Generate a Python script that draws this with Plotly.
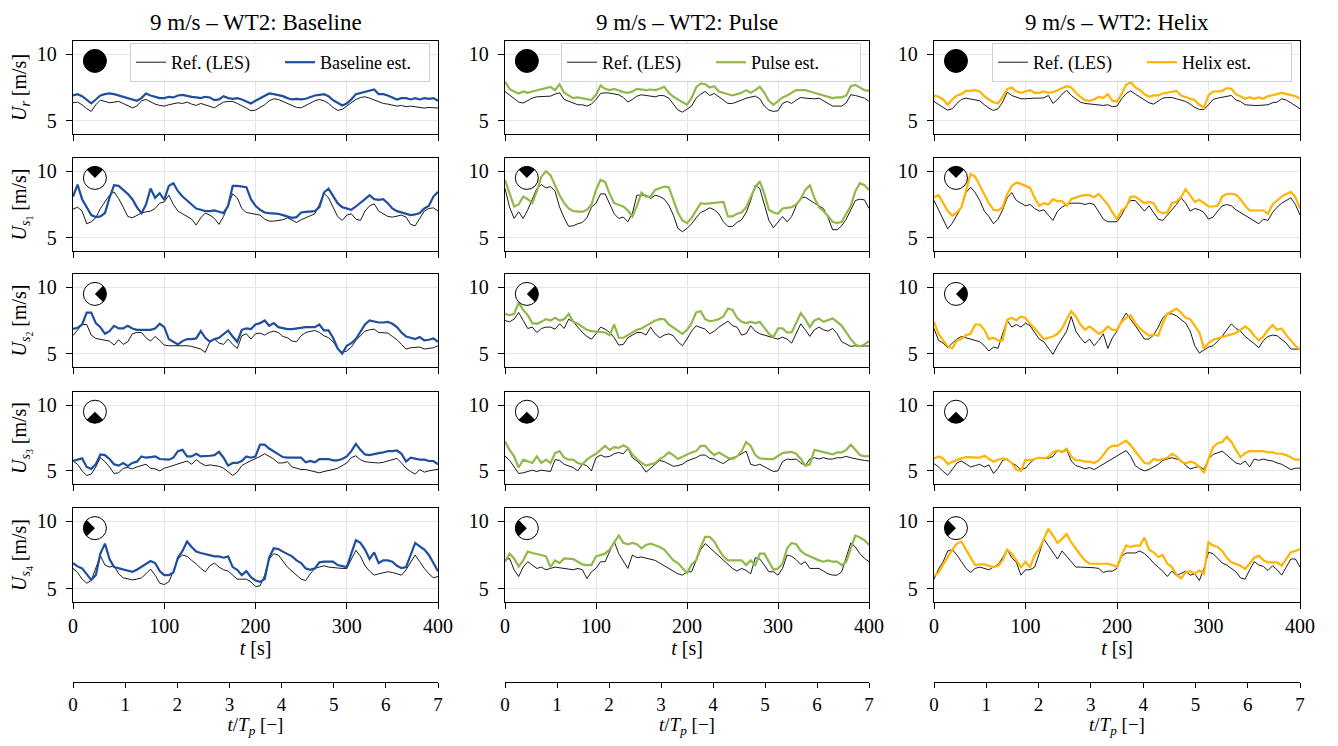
import numpy as np
import plotly.graph_objects as go

# time grid of the read-off samples [s]
T = list(range(0, 401, 5))
TP_TICKS = [0, 1, 2, 3, 4, 5, 6, 7]
T_TICKS = [0, 100, 200, 300, 400]
U_TICKS = [5, 10]

CASES = ["Baseline", "Pulse", "Helix"]
CASE_COLORS = ["#1f4e9e", "#92b84a", "#ffb400"]
ROW_LABELS = [
    "<i>U<sub>r</sub></i> [m/s]",
    "<i>U</i><sub><i>s</i><sub>1</sub></sub> [m/s]",
    "<i>U</i><sub><i>s</i><sub>2</sub></sub> [m/s]",
    "<i>U</i><sub><i>s</i><sub>3</sub></sub> [m/s]",
    "<i>U</i><sub><i>s</i><sub>4</sub></sub> [m/s]",
]
# direction of the black sector in the rotor icon (None = full disc)
ICON_DIR = [None, 90, 0, 270, 180]

# ---------------- Baseline ----------------
BASE_UR_REF = [
    6.35, 6.4, 6.2, 5.9, 5.7, 6.2, 6.55, 6.45, 6.35, 6.4,
    6.45, 6.3, 6.15, 5.97, 6.1, 6.5, 6.6, 6.4, 6.25, 6.15,
    6.1, 6.2, 6.3, 6.35, 6.3, 6.4, 6.25, 6.15, 6.3, 6.2,
    6.1, 5.97, 6.2, 6.4, 6.45, 6.45, 6.3, 6.15, 5.95, 5.75,
    5.8, 6.0, 6.2, 6.5, 6.65, 6.6, 6.45, 6.3, 6.15, 6.0,
    5.97, 6.15, 6.35, 6.5, 6.6, 6.5, 6.3, 6.0, 5.78, 5.85,
    6.1, 6.35, 6.6, 6.75, 6.8, 6.7, 6.55, 6.45, 6.3, 6.25,
    6.15, 6.1, 6.15, 6.05, 6.1, 6.05, 6.0, 5.95, 6.0, 5.95,
    5.95]
BASE_UR_EST = [
    6.9, 7.0, 6.85, 6.6, 6.3, 6.6, 6.9, 7.0, 7.05, 7.0,
    6.9, 6.85, 6.7, 6.6, 6.5, 6.7, 7.05, 6.9, 6.8, 6.7,
    6.7, 6.8, 6.75, 6.9, 6.95, 6.85, 6.8, 6.75, 6.7, 6.8,
    6.75, 6.55, 6.6, 6.85, 6.7, 6.65, 6.7, 6.6, 6.45, 6.3,
    6.5, 6.7, 6.9, 7.05, 7.0, 6.95, 6.85, 6.7, 6.6, 6.65,
    6.6, 6.65, 6.8, 6.9, 6.95, 7.0, 6.85, 6.55, 6.35, 6.15,
    6.3, 6.6, 7.0, 7.1, 7.2, 7.3, 7.35, 7.0, 7.0, 6.9,
    6.75, 6.6, 6.7, 6.7, 6.6, 6.7, 6.6, 6.7, 6.65, 6.7,
    6.5]
BASE_S1_REF = [
    7.15, 7.3, 7.0, 6.05, 6.2, 6.5, 7.2, 7.7, 8.2, 8.45,
    7.95, 7.3, 6.6, 6.5, 6.7, 6.85, 6.95, 7.0, 7.2, 7.6,
    7.7, 8.2, 7.5, 7.0, 6.8, 6.6, 6.4, 5.95, 6.5, 6.85,
    6.7, 6.45, 6.0, 6.6, 7.5, 8.3, 8.0, 7.2, 6.9, 6.85,
    6.75, 6.7, 6.4, 6.25, 6.25, 6.3, 6.35, 6.5, 6.3, 6.15,
    6.35, 6.5, 6.7, 6.8, 7.5, 8.35, 8.0, 7.3, 6.6, 6.3,
    6.7, 6.8, 6.4, 6.3, 7.0, 7.4, 7.55, 7.0, 6.8, 6.6,
    6.55, 6.6, 6.7, 6.55, 6.0, 5.9, 6.4, 7.0, 7.2, 7.25,
    7.0]
BASE_S1_EST = [
    8.1, 9.0, 7.9, 7.35, 6.7, 6.55, 6.6, 6.85, 8.0, 8.95,
    8.9, 8.6, 8.3, 7.9, 7.3, 6.85, 7.5, 8.7, 8.0, 8.35,
    7.85, 8.9, 9.1, 8.5, 8.1, 7.8, 7.5, 7.2, 7.1, 7.0,
    7.0, 7.05, 6.95, 6.85, 7.4, 8.9, 8.9, 8.85, 8.8, 7.9,
    7.4, 7.1, 6.9, 6.85, 6.85, 6.8, 6.7, 6.6, 6.5, 6.55,
    6.9, 6.95, 6.95, 7.0, 7.3, 8.4, 8.7, 8.1, 7.6, 7.3,
    7.2, 7.1, 7.35, 7.6, 7.9, 8.2, 7.9, 7.85, 7.9, 7.6,
    7.2, 7.0, 6.9, 6.75, 6.7, 6.75, 6.85, 7.2, 7.4, 8.1,
    8.45]
BASE_S2_REF = [
    6.37, 6.8, 7.2, 7.2, 6.4, 6.15, 6.1, 6.0, 5.95, 5.65,
    6.05, 5.7, 5.9, 6.5, 6.6, 6.6, 6.2, 5.95, 6.3, 6.0,
    5.65, 5.6, 5.6, 5.65, 5.65, 5.6, 5.55, 5.45, 5.35, 5.1,
    5.9, 6.1, 5.8, 5.7, 6.1, 5.7, 5.4, 6.35, 6.5, 6.1,
    6.5, 6.55, 6.4, 6.6, 6.7, 6.6, 6.3, 6.2, 5.95, 5.9,
    6.35, 6.6, 6.7, 6.75, 6.6, 6.35, 6.2, 5.9, 5.4, 5.1,
    5.2, 5.5, 6.0, 6.35, 6.7, 6.8, 6.85, 6.6, 6.6, 6.55,
    6.3, 6.05, 5.7, 5.35, 5.45, 5.5, 5.5, 5.35, 5.4, 5.45,
    5.6]
BASE_S2_EST = [
    6.87, 6.95, 7.2, 8.1, 8.1, 7.3, 7.0, 6.5, 6.7, 7.1,
    6.9, 6.9, 7.1, 6.9, 6.8, 6.8, 6.75, 6.8, 6.9, 7.25,
    7.0, 6.1, 5.9, 5.7, 5.95, 6.1, 6.1, 6.15, 6.7, 6.2,
    5.9, 6.1, 6.2, 6.5, 6.75, 6.3, 5.9, 6.8, 6.9, 6.85,
    7.2, 7.3, 7.5, 7.1, 7.3, 7.0, 6.9, 6.85, 6.85, 6.9,
    7.0, 7.0, 7.0, 7.0, 7.2, 6.75, 6.75, 6.2, 5.4, 5.0,
    5.6, 5.8, 6.1, 6.7, 7.2, 7.5, 7.4, 7.35, 7.35, 7.4,
    7.25, 7.0, 6.6, 6.3, 6.2, 6.1, 6.25, 6.0, 6.05, 6.15,
    5.9]
BASE_S3_REF = [
    5.75, 5.5, 5.0, 4.65, 4.75, 5.3, 6.0, 5.7, 5.3, 4.8,
    4.85, 5.2, 5.25, 5.15, 5.3, 5.4, 5.5, 5.2, 5.15, 5.0,
    5.2, 5.3, 5.4, 5.5, 5.6, 5.75, 5.5, 5.85, 5.6, 5.4,
    5.45, 5.4, 5.35, 5.2, 4.9, 4.65, 4.9, 5.4, 5.6, 5.75,
    5.9, 6.1, 6.3, 6.1, 5.9, 5.6, 5.6, 5.7, 5.3, 5.2,
    5.1, 5.1, 5.0, 4.95, 4.85, 4.95, 5.0, 5.1, 5.2, 5.4,
    5.6, 6.0, 6.15, 5.85, 5.7, 5.65, 5.6, 5.6, 5.65, 5.75,
    5.85, 5.95, 5.6, 5.2, 4.95, 4.75, 5.1, 4.9, 5.0, 5.05,
    5.12]
BASE_S3_EST = [
    5.75, 5.85, 5.95, 5.3, 5.15, 5.5, 6.25, 6.2, 5.9, 5.5,
    5.4, 5.6, 5.35, 5.6, 5.7, 6.1, 6.0, 6.05, 6.1, 5.9,
    5.85, 5.85, 6.0, 6.5, 6.6, 6.1, 6.1, 6.3, 6.1, 6.1,
    6.15, 6.2, 6.45, 6.0, 5.4, 5.6, 5.6, 5.75, 6.1, 6.0,
    6.1, 7.0, 7.0, 6.7, 6.5, 6.3, 6.05, 6.0, 6.0, 6.0,
    6.0, 5.65, 5.75, 5.65, 5.9, 5.9, 5.9, 5.8, 5.8, 5.9,
    6.1, 6.5, 7.05, 6.6, 6.25, 6.2, 6.3, 6.35, 6.4, 6.5,
    6.5, 6.55, 6.3, 5.7, 6.0, 5.9, 5.85, 5.85, 5.75, 5.75,
    5.5]
BASE_S4_REF = [
    6.5, 6.2, 5.7, 5.4, 5.6, 6.6, 7.45, 6.75, 6.6, 6.7,
    6.1, 5.8, 5.75, 5.65, 5.7, 5.8, 6.1, 6.45, 6.0, 5.4,
    5.3, 5.5, 6.3, 7.2, 7.5, 7.4, 7.1, 6.85, 6.5, 6.25,
    6.7, 6.9, 6.6, 6.4, 6.3, 6.0, 5.7, 5.7, 5.7, 5.5,
    5.15, 5.2, 6.0, 7.2, 7.6, 7.5, 7.0, 6.6, 6.3, 6.0,
    5.7, 5.6, 6.1, 6.5, 6.6, 6.7, 6.6, 6.55, 6.5, 6.5,
    6.5, 7.2, 7.85, 7.4, 6.7, 6.3, 6.0, 6.1, 6.2, 6.25,
    6.2, 6.1, 6.0, 6.4, 7.0, 7.5, 7.0, 6.5, 6.1, 5.8,
    5.9]
BASE_S4_EST = [
    6.9, 6.65, 6.5, 6.05, 5.65, 6.0, 7.6, 8.35, 7.2, 6.6,
    6.5, 6.45, 6.3, 6.25, 6.4, 6.6, 6.8, 7.05, 6.9, 6.3,
    6.0, 6.0, 6.2, 7.3, 7.8, 8.5, 8.1, 7.75, 7.65, 7.55,
    7.5, 7.4, 7.4, 7.3, 7.4, 6.6, 6.4, 6.0, 6.3, 5.85,
    5.6, 5.5, 5.7, 7.3, 8.0, 7.95, 7.75, 7.6, 7.4, 7.1,
    6.9, 6.5, 6.4, 6.5, 6.95, 7.0, 7.0, 7.0, 6.75, 6.65,
    6.6, 7.6, 8.6, 8.4, 7.9, 7.2, 7.7, 6.9, 7.1, 7.1,
    7.0, 6.7, 6.52, 6.6, 7.5, 8.4, 8.15, 7.9, 7.5, 6.9,
    6.3]

# ---------------- Pulse ----------------
PULSE_UR_REF = [
    7.2, 6.95, 6.65, 6.4, 6.33, 6.5, 6.7, 6.8, 6.8, 6.82,
    6.85, 7.0, 7.1, 6.6, 6.45, 6.3, 6.2, 6.2, 6.1, 6.25,
    6.6, 7.05, 7.1, 7.08, 7.0, 6.95, 6.75, 6.4, 6.6, 6.85,
    6.95, 6.9, 6.85, 6.8, 6.9, 6.88, 6.7, 6.25, 5.8, 5.65,
    5.85, 6.1, 6.7, 7.0, 7.2, 6.9, 7.05, 6.8, 6.5, 6.3,
    6.3, 6.4, 6.55, 6.7, 6.75, 6.85, 6.65, 6.1, 5.8, 5.7,
    5.75, 6.3, 6.45, 6.3, 6.55, 6.75, 6.7, 6.68, 6.65, 6.7,
    6.5, 6.3, 6.1, 6.1, 6.1, 6.35, 6.95, 6.9, 6.8, 6.7,
    6.45]
PULSE_UR_EST = [
    7.95, 7.4, 7.2, 7.05, 7.2, 7.1, 7.2, 7.3, 7.4, 7.5,
    7.55, 7.3, 7.75, 7.1, 6.9, 6.7, 6.75, 6.7, 6.65, 6.55,
    6.95, 7.65, 7.4, 7.3, 7.4, 7.25, 7.15, 7.1, 7.2, 7.4,
    7.35, 7.3, 7.35, 7.3, 7.4, 7.55, 7.1, 6.8, 6.6, 6.4,
    6.2, 6.7, 7.5, 7.8, 7.75, 7.5, 7.6, 7.2, 7.1, 7.05,
    6.9, 7.0, 7.1, 7.3, 7.1, 7.3, 7.55, 7.1, 6.5, 6.2,
    6.5, 6.75, 6.9, 7.1, 7.3, 7.3, 7.3, 7.2, 7.1, 7.0,
    6.85, 6.75, 6.7, 6.75, 6.75, 6.9, 7.6, 7.7, 7.5, 7.3,
    7.25]
PULSE_S1_REF = [
    8.72, 7.3, 6.45, 6.95, 6.45, 7.1, 7.9, 8.7, 9.0, 8.75,
    8.85, 8.5, 7.3, 6.5, 5.85, 5.9, 6.05, 6.15, 6.5, 7.3,
    7.6, 8.3, 8.3, 7.5, 6.8, 6.45, 6.55, 6.2, 6.85, 8.2,
    8.2, 8.2, 7.95, 8.2, 8.1, 7.9, 7.45, 6.7, 5.7, 5.45,
    5.7, 6.05, 6.5, 6.9, 7.05, 7.25, 7.1, 6.8, 6.2, 5.85,
    5.85, 6.15, 6.35, 6.9, 7.8, 8.95, 8.7, 7.5, 6.3, 5.75,
    6.2, 6.6, 6.2, 6.6, 7.4, 8.0, 8.05, 7.8, 7.6, 7.4,
    7.2, 6.5, 5.6, 5.6, 5.9, 6.4, 7.1, 7.8, 7.9, 7.85,
    7.2]
PULSE_S1_EST = [
    9.35, 8.4, 7.35, 7.5, 8.1, 7.9, 7.6, 8.5, 9.6, 10.0,
    9.7, 8.95, 8.2, 7.6, 7.2, 7.0, 6.95, 6.95, 7.1, 7.5,
    8.6, 9.35, 9.2, 8.3, 7.6, 7.5, 7.35, 7.05, 6.6, 7.4,
    8.4, 8.1, 8.1, 8.6, 8.7, 8.85, 8.8, 7.9, 6.9, 6.3,
    6.1, 6.5, 7.0, 7.6, 7.55, 7.6, 7.6, 7.65, 7.7, 6.6,
    6.6, 6.8, 6.9, 7.3, 8.1, 8.8, 9.25, 8.3, 7.1, 6.9,
    6.8, 7.2, 7.25, 7.3, 7.5, 7.9, 8.6, 8.95, 8.0, 7.3,
    7.0, 6.6, 6.2, 6.1, 6.2, 6.8, 7.4, 8.5, 9.1, 8.95,
    8.6]
PULSE_S2_REF = [
    7.5, 7.4, 7.6, 8.1, 7.5, 6.9, 7.0, 6.6, 6.9, 7.0,
    7.0, 6.85, 7.25, 6.9, 7.6, 7.4, 7.0, 6.6, 6.3, 6.1,
    6.5, 7.0, 6.85, 6.6, 6.2, 5.65, 5.7, 6.2, 6.4, 6.6,
    6.6, 6.4, 7.0, 6.5, 6.2, 6.4, 6.5, 6.35, 5.9, 5.6,
    6.1, 6.7, 7.1, 7.0, 6.85, 6.5, 6.7, 7.0, 7.2, 7.45,
    7.1, 7.0, 6.4, 6.5, 7.1, 6.7, 6.5, 6.4, 6.3, 6.15,
    6.1, 6.25, 6.1, 5.8, 6.5, 7.25, 6.8, 6.3, 6.8, 7.0,
    6.8, 6.7, 6.9, 6.5, 5.9, 5.7, 5.55, 5.6, 5.55, 5.58,
    5.58]
PULSE_S2_EST = [
    8.0, 7.9, 8.0, 8.85, 8.3, 7.9, 7.3, 7.25, 7.4, 7.6,
    7.5, 7.7, 7.5, 7.6, 8.0, 7.4, 7.25, 7.0, 6.8, 6.7,
    6.65, 6.65, 6.6, 6.4, 7.2, 6.2, 6.2, 6.4, 6.6, 6.8,
    6.9, 7.1, 7.35, 7.5, 7.6, 7.6, 7.2, 6.95, 6.7, 6.5,
    6.8, 7.3, 8.1, 8.2, 7.6, 7.45, 7.5, 7.6, 7.8, 8.4,
    8.3, 7.7, 7.4, 7.3, 7.4, 7.3, 7.4, 6.9, 6.5, 6.25,
    6.9, 6.9, 6.6, 6.6, 7.3, 8.05, 7.6, 7.0, 7.5, 7.65,
    7.4, 7.5, 7.65, 7.4, 7.1, 6.6, 6.1, 5.7, 5.55, 5.7,
    5.95]
PULSE_S3_REF = [
    6.12, 5.8, 5.3, 4.8, 4.85, 4.95, 5.05, 4.95, 5.05, 5.0,
    4.95, 5.85, 5.8, 5.5, 5.35, 5.25, 5.0, 5.5, 5.4, 5.0,
    6.0, 6.2, 6.05, 6.1, 6.3, 6.4, 6.3, 6.7, 6.0, 5.75,
    5.4, 4.9, 5.2, 5.5, 5.8, 5.7, 5.5, 5.35, 5.4, 5.5,
    5.75, 5.85, 6.0, 6.2, 6.2, 5.95, 5.9, 5.7, 5.55, 5.8,
    6.0, 6.1, 6.3, 6.5, 5.5, 5.4, 5.5, 5.3, 5.1, 4.95,
    5.0, 5.7, 5.9, 5.85, 5.9, 5.6, 5.4, 5.9, 6.0, 5.9,
    6.0, 5.9, 5.9, 6.0, 6.0, 6.1, 6.0, 5.9, 5.85, 5.8,
    5.75]
PULSE_S3_EST = [
    7.25, 6.6, 6.1, 5.25, 5.85, 5.75, 5.6, 6.1, 5.6, 5.85,
    5.6, 6.35, 6.5, 6.0, 5.85, 5.85, 5.6, 5.5, 5.85, 6.1,
    6.3, 6.6, 6.9, 6.6, 6.8, 6.75, 6.95, 6.75, 6.25, 5.9,
    5.6, 5.4, 5.5, 5.6, 5.9, 6.1, 6.4, 6.2, 5.9, 6.1,
    6.25, 6.4, 6.5, 6.9, 6.9, 6.5, 6.2, 6.4, 6.2, 6.0,
    5.9, 6.1, 6.5, 7.2, 6.9, 6.2, 5.95, 5.9, 5.9, 5.9,
    6.1, 6.35, 6.4, 6.45, 6.3, 5.9, 5.4, 5.5, 6.6, 6.5,
    6.4, 6.35, 6.25, 6.4, 6.4, 6.6, 7.0, 6.6, 6.2, 6.1,
    6.12]
PULSE_S4_REF = [
    7.12, 7.25, 6.4, 5.9, 6.6, 7.0, 6.75, 6.5, 6.6, 6.4,
    6.5, 6.6, 6.55, 6.5, 6.5, 6.4, 6.5, 6.4, 5.75, 6.25,
    6.5, 7.0, 7.0, 7.7, 8.5, 7.6, 7.0, 6.5, 7.5, 7.3,
    7.35, 7.25, 7.2, 7.1, 6.9, 6.7, 6.5, 6.35, 6.1, 6.0,
    6.25, 6.25, 7.1, 7.9, 8.35, 8.05, 7.7, 7.4, 7.15, 6.8,
    6.5, 6.3, 6.5, 6.35, 6.1, 7.3, 7.2, 6.75, 6.25, 6.25,
    6.0, 6.5, 7.5, 7.4, 7.15, 6.8, 7.0, 6.5, 6.5, 6.5,
    6.3, 6.1, 6.0, 6.0, 6.25, 7.3, 8.4, 8.1, 7.6, 7.25,
    7.0]
PULSE_S4_EST = [
    7.0, 7.6, 7.25, 6.65, 7.1, 7.75, 7.65, 7.6, 7.5, 7.4,
    6.6, 7.1, 6.9, 7.25, 7.25, 7.2, 7.0, 6.8, 6.75, 6.75,
    7.4, 7.5, 7.6, 7.9, 8.4, 8.95, 8.4, 8.3, 8.4, 8.3,
    8.0, 8.25, 8.35, 8.25, 8.1, 7.9, 7.5, 7.1, 6.9, 6.5,
    6.15, 6.8, 7.1, 8.1, 8.85, 8.85, 8.5, 7.9, 7.4, 7.1,
    7.1, 7.1, 7.1, 6.75, 7.1, 6.75, 7.6, 7.6, 7.0, 6.4,
    6.5, 6.85, 8.0, 8.4, 8.3, 7.8, 7.55, 7.4, 7.2, 7.1,
    7.0, 7.1, 7.0, 7.0, 6.75, 7.0, 8.0, 8.95, 8.8, 8.6,
    8.25]

# ---------------- Helix ----------------
HELIX_UR_REF = [
    6.45, 6.2, 6.0, 5.8, 5.9, 6.3, 6.6, 6.7, 6.65, 6.6,
    6.5, 6.2, 5.95, 5.77, 5.9, 6.4, 7.15, 6.9, 6.75, 6.65,
    6.65, 6.7, 6.7, 6.7, 6.72, 6.9, 6.3, 6.6, 7.0, 7.3,
    6.9, 6.65, 6.4, 6.3, 6.25, 6.25, 6.2, 6.15, 6.2, 6.05,
    6.1, 6.65, 7.05, 7.25, 7.0, 6.8, 6.55, 6.35, 6.25, 6.5,
    6.7, 6.75, 6.75, 6.65, 6.55, 6.45, 6.25, 6.0, 5.85, 5.85,
    6.2, 6.6, 6.7, 6.75, 6.8, 6.9, 6.55, 6.45, 6.2, 6.15,
    6.15, 6.15, 6.15, 6.2, 6.35, 6.4, 6.65, 6.55, 6.35, 6.1,
    5.9]
HELIX_UR_EST = [
    6.9, 6.8, 6.6, 6.2, 6.6, 6.9, 7.0, 7.25, 7.25, 7.3,
    7.2, 6.85, 6.6, 6.4, 6.3, 6.8, 7.4, 7.5, 7.2, 7.1,
    7.2, 7.3, 7.1, 7.1, 7.2, 7.1, 7.15, 7.3, 7.4, 7.6,
    7.5, 7.1, 6.8, 6.55, 6.5, 6.6, 6.8, 6.7, 7.0, 6.5,
    6.45, 7.0, 7.7, 7.9, 7.5, 7.3, 7.0, 6.8, 6.9, 6.9,
    7.05, 7.1, 7.2, 7.25, 6.9, 6.8, 6.65, 6.55, 6.2, 6.0,
    6.9, 7.2, 7.2, 7.25, 7.45, 7.4, 7.0, 6.8, 6.65, 6.77,
    6.65, 6.75, 6.65, 6.85, 6.9, 7.0, 7.1, 7.0, 6.9, 6.85,
    6.65]
HELIX_S1_REF = [
    7.8, 7.1, 6.3, 5.67, 6.1, 6.7, 7.3, 8.4, 8.8, 8.4,
    7.8, 7.0, 6.6, 6.05, 6.4, 7.1, 8.0, 8.4, 7.8, 7.6,
    7.4, 7.5, 7.2, 7.0, 7.1, 6.7, 6.3, 7.0, 7.3, 7.5,
    7.6, 7.6, 7.6, 7.5, 7.6, 7.5, 6.9, 6.4, 6.2, 6.2,
    6.2, 6.7, 7.4, 7.8, 7.8, 7.4, 7.0, 7.4, 6.9, 6.4,
    6.3, 6.7, 7.1, 7.5, 8.0, 7.6, 7.0, 7.2, 7.1, 6.9,
    6.4, 6.55, 7.0, 7.4, 7.5, 7.4, 7.1, 6.9, 6.7, 6.5,
    6.3, 6.05, 6.4, 6.3, 6.9, 7.3, 7.6, 7.8, 8.0, 7.5,
    6.7]
HELIX_S1_EST = [
    8.05, 8.2, 7.6, 7.0, 6.65, 6.9, 7.3, 8.5, 9.8, 9.6,
    8.9, 8.2, 7.6, 7.1, 7.05, 7.3, 8.3, 8.9, 9.15, 9.05,
    8.9, 8.75, 8.0, 7.4, 7.6, 7.5, 7.9, 7.75, 7.75, 7.4,
    7.9, 8.05, 8.15, 8.2, 8.2, 8.05, 8.3, 7.9, 7.5, 6.9,
    6.4, 7.05, 7.3, 8.1, 8.1, 7.85, 7.6, 7.7, 7.6, 7.0,
    6.85, 6.9, 7.6, 7.7, 8.05, 8.65, 8.2, 7.7, 7.85, 7.6,
    7.35, 7.35, 7.4, 8.1, 8.3, 8.3, 8.25, 7.9, 7.4, 7.05,
    7.05, 7.05, 7.05, 6.8, 7.5, 7.8, 8.1, 8.3, 8.45, 8.05,
    7.2]
HELIX_S2_REF = [
    6.9, 6.0, 5.8, 5.45, 5.8, 6.1, 6.3, 6.2, 6.1, 6.0,
    5.9, 5.6, 5.2, 5.5, 5.4, 6.5, 7.5, 7.0, 7.2, 7.0,
    7.3, 7.1, 6.6, 6.1, 5.9, 5.45, 4.95, 5.6, 6.1, 6.7,
    7.8, 6.7, 6.2, 5.8, 6.1, 5.6, 6.0, 6.5, 5.4, 6.2,
    6.7, 7.5, 8.05, 7.6, 7.1, 6.6, 6.1, 6.1, 6.4, 7.0,
    7.7, 8.0, 8.0, 7.85, 7.6, 7.3, 6.7, 5.6, 5.05, 5.3,
    5.5, 5.6, 5.95, 6.3, 6.8, 7.25, 6.9, 6.7, 6.3, 6.05,
    5.75, 5.45, 6.0, 6.3, 6.4, 6.35, 6.1, 5.8, 5.35, 5.35,
    5.35]
HELIX_S2_EST = [
    7.4, 6.5, 6.0, 5.55, 5.4, 6.0, 6.1, 6.4, 6.5, 7.2,
    7.2, 6.8, 6.1, 6.2, 6.0, 6.0, 7.55, 7.7, 7.5, 7.8,
    7.7, 7.25, 6.9, 6.5, 6.1, 6.2, 6.3, 6.5, 6.9, 7.6,
    8.2, 7.8, 7.2, 6.8, 7.05, 6.8, 6.5, 6.7, 7.05, 6.8,
    6.8, 7.4, 7.7, 7.9, 7.3, 6.9, 6.6, 6.35, 6.45, 6.35,
    7.3, 8.0, 8.2, 8.4, 8.1, 7.7, 7.6, 7.1, 6.6, 5.4,
    5.8, 6.05, 6.15, 6.25, 6.35, 6.45, 6.55, 6.8, 7.05, 6.8,
    6.35, 6.0, 6.3, 6.8, 7.15, 6.8, 6.9, 6.4, 6.0, 5.6,
    5.3]
HELIX_S3_REF = [
    5.55, 5.3, 4.95, 4.67, 5.1, 5.6, 5.75, 5.55, 5.3, 5.4,
    5.5, 5.3, 5.45, 4.8, 5.2, 5.8, 5.9, 5.6, 5.4, 5.1,
    5.2, 5.6, 5.9, 6.0, 5.95, 5.95, 6.1, 6.55, 6.4, 6.6,
    5.75, 5.4, 5.3, 5.15, 5.25, 5.1, 5.3, 5.5, 5.7, 5.9,
    6.15, 6.3, 6.55, 6.1, 5.4, 5.15, 5.0, 5.1, 5.3, 5.5,
    5.8, 5.9, 6.0, 5.9, 5.8, 5.4, 5.15, 5.25, 5.35, 5.1,
    5.9, 6.25, 6.35, 6.5, 6.2, 5.9, 5.6, 5.5, 5.75, 5.3,
    5.9, 5.8, 5.9, 5.8, 5.75, 5.6, 5.5, 5.3, 5.1, 5.2,
    5.2]
HELIX_S3_EST = [
    5.92, 6.1, 5.95, 5.5, 5.7, 5.85, 5.95, 6.05, 6.05, 6.0,
    6.0, 6.15, 5.95, 5.7, 5.85, 5.95, 5.85, 5.6, 5.1, 5.0,
    5.85, 5.8, 5.9, 6.0, 5.95, 6.05, 6.4, 6.55, 6.45, 6.7,
    6.1, 5.8, 5.8, 5.7, 5.7, 5.6, 5.8, 6.2, 6.7, 6.9,
    6.9, 7.1, 7.3, 6.95, 6.5, 6.0, 5.6, 5.55, 5.9, 5.8,
    5.9, 6.0, 6.3, 6.1, 5.7, 5.55, 5.7, 5.6, 5.3, 4.85,
    5.9, 6.8, 7.1, 7.2, 7.6, 7.2, 6.6, 6.05, 6.35, 6.5,
    6.5, 6.5, 6.5, 6.4, 6.4, 6.3, 6.3, 6.2, 6.05, 5.85,
    5.85]
HELIX_S4_REF = [
    5.7, 6.45, 7.0, 7.8, 7.9, 7.5, 7.0, 6.5, 6.2, 6.5,
    6.6, 6.5, 6.4, 6.6, 6.8, 7.3, 7.9, 7.3, 6.95, 6.0,
    6.4, 6.4, 6.6, 7.6, 8.7, 8.2, 7.7, 7.2, 7.8, 7.4,
    7.0, 6.6, 6.6, 6.6, 6.6, 6.55, 6.5, 6.2, 6.3, 6.3,
    6.5, 7.4, 7.65, 7.65, 7.65, 7.8, 7.6, 7.3, 6.9, 6.6,
    6.3, 5.9, 6.3, 5.95, 6.1, 6.3, 6.0, 6.1, 5.6, 6.5,
    7.7, 7.6, 7.25, 6.9, 6.75, 6.5, 6.25, 5.8, 5.7, 6.4,
    7.0, 6.75, 6.65, 6.35, 6.7, 6.4, 6.0, 6.6, 7.2, 7.2,
    6.6]
HELIX_S4_EST = [
    5.95, 6.2, 6.8, 7.4, 7.9, 8.35, 8.5, 7.9, 7.3, 6.75,
    6.8, 6.8, 6.7, 6.6, 6.7, 7.1, 7.9, 7.6, 7.1, 6.6,
    7.0, 6.6, 7.5, 7.95, 8.7, 9.45, 8.95, 8.4, 8.7, 9.05,
    8.45, 7.95, 7.5, 7.1, 6.85, 6.85, 6.85, 6.85, 6.85, 6.75,
    6.6, 7.5, 8.2, 8.1, 8.2, 8.2, 8.8, 7.9, 7.7, 7.35,
    7.5, 6.85, 6.6, 6.05, 5.75, 6.2, 6.3, 6.1, 6.35, 6.1,
    8.45, 8.2, 8.1, 7.8, 7.3, 6.95, 6.8, 6.7, 6.45, 6.85,
    7.3, 7.45, 7.1, 6.95, 6.95, 6.95, 6.7, 7.2, 7.7, 7.8,
    7.95]

PANELS = [
    [(BASE_UR_REF, BASE_UR_EST), (PULSE_UR_REF, PULSE_UR_EST), (HELIX_UR_REF, HELIX_UR_EST)],
    [(BASE_S1_REF, BASE_S1_EST), (PULSE_S1_REF, PULSE_S1_EST), (HELIX_S1_REF, HELIX_S1_EST)],
    [(BASE_S2_REF, BASE_S2_EST), (PULSE_S2_REF, PULSE_S2_EST), (HELIX_S2_REF, HELIX_S2_EST)],
    [(BASE_S3_REF, BASE_S3_EST), (PULSE_S3_REF, PULSE_S3_EST), (HELIX_S3_REF, HELIX_S3_EST)],
    [(BASE_S4_REF, BASE_S4_EST), (PULSE_S4_REF, PULSE_S4_EST), (HELIX_S4_REF, HELIX_S4_EST)],
]

# the page body adds an 8 px margin, so the figure is 16 px smaller than the window
PAGE_PAD = 8
W, H = 1338 - 2 * PAGE_PAD, 746 - 2 * PAGE_PAD
FONT = "Liberation Serif"
# panel edges in window pixels
COL_PX = [(73, 438), (505, 869), (934, 1300)]
ROW_PX = [(41, 134), (158, 251), (274, 367), (392, 484), (508, 602)]
TP_AXIS_PX = 682
GRID = "#e5e5e5"
ICON_R = 11.5


def px_x(p):
    return (p - PAGE_PAD) / W


def px_y(p):
    return 1 - (p - PAGE_PAD) / H


def xdom(c):
    return [px_x(COL_PX[c][0]), px_x(COL_PX[c][1])]


def ydom(r):
    return [px_y(ROW_PX[r][1]), px_y(ROW_PX[r][0])]


def sector_path(direction, r=ICON_R, n=16):
    # filled quarter sector, apex in the centre of the icon
    ang = np.radians(np.linspace(direction - 45, direction + 45, n))
    pts = " ".join(f"L{r * np.cos(a):.2f},{r * np.sin(a):.2f}" for a in ang)
    return f"M0,0 {pts} Z"


fig = go.Figure()
layout = {}
shapes = []
legends = ["legend", "legend2", "legend3"]
tick_font = dict(family=FONT, size=20, color="black")
title_font = dict(family=FONT, size=20, color="black")

for r in range(5):
    for c in range(3):
        k = r * 3 + c + 1
        ref, est = PANELS[r][c]
        fig.add_trace(go.Scatter(
            x=T, y=ref, mode="lines", name="Ref. (LES)",
            line=dict(color="black", width=0.9),
            xaxis=f"x{k}", yaxis=f"y{k}",
            showlegend=(r == 0), legend=legends[c], hoverinfo="skip",
        ))
        fig.add_trace(go.Scatter(
            x=T, y=est, mode="lines", name=f"{CASES[c]} est.",
            line=dict(color=CASE_COLORS[c], width=2.2),
            xaxis=f"x{k}", yaxis=f"y{k}",
            showlegend=(r == 0), legend=legends[c], hoverinfo="skip",
        ))

        xa = dict(
            domain=xdom(c), anchor=f"y{k}", range=[0, 400],
            tickvals=T_TICKS, showticklabels=(r == 4), tickfont=tick_font,
            ticks="outside", ticklen=6, tickwidth=1.1, tickcolor="black",
            showline=True, linecolor="black", linewidth=1.3, mirror=True,
            showgrid=True, gridcolor=GRID, gridwidth=1, zeroline=False,
        )
        if r == 4:
            xa["title"] = dict(text="<i>t</i> [s]", standoff=4, font=title_font)
        layout[f"xaxis{k}"] = xa

        ya = dict(
            domain=ydom(r), anchor=f"x{k}", range=[4, 11],
            tickvals=U_TICKS, ticks="outside", ticklen=6, tickwidth=1.1,
            tickcolor="black", tickfont=tick_font, ticklabelstandoff=5,
            showline=True, linecolor="black",
            linewidth=1.3, mirror=True, showgrid=True, gridcolor=GRID,
            gridwidth=1, zeroline=False,
        )
        if c == 0:
            ya["title"] = dict(text=ROW_LABELS[r], standoff=8, font=title_font)
        layout[f"yaxis{k}"] = ya

        # rotor icon
        disc = ICON_DIR[r] is None
        shapes.append(dict(
            type="circle", xref=f"x{k}", yref=f"y{k}",
            xsizemode="pixel", ysizemode="pixel", xanchor=24, yanchor=9.5,
            x0=-ICON_R, x1=ICON_R, y0=-ICON_R, y1=ICON_R,
            line=dict(color="black", width=1),
            fillcolor="black" if disc else "white", layer="above",
        ))
        if not disc:
            shapes.append(dict(
                type="path", xref=f"x{k}", yref=f"y{k}",
                xsizemode="pixel", ysizemode="pixel", xanchor=24, yanchor=9.5,
                path=sector_path(ICON_DIR[r]), line=dict(width=0),
                fillcolor="black", layer="above",
            ))

# secondary time axes in rotor periods
for c in range(3):
    k = 16 + c
    fig.add_trace(go.Scatter(x=[None], y=[None], xaxis=f"x{k}", yaxis=f"y{k}",
                             showlegend=False, hoverinfo="skip"))
    pos = px_y(TP_AXIS_PX)
    layout[f"xaxis{k}"] = dict(
        domain=xdom(c), anchor=f"y{k}", range=[0, 7], tickvals=TP_TICKS,
        ticks="outside", ticklen=5, tickwidth=1.1, tickcolor="black",
        tickfont=dict(family=FONT, size=19, color="black"),
        showline=True, linecolor="black", linewidth=1.3, showgrid=False,
        zeroline=False,
        title=dict(text="<i>t</i>/<i>T<sub>p</sub></i> [\u2212]", standoff=3,
                   font=dict(family=FONT, size=19, color="black")),
    )
    layout[f"yaxis{k}"] = dict(domain=[pos, pos + 0.01], anchor=f"x{k}", visible=False)

# legends in the top row
for c in range(3):
    layout[legends[c]] = dict(
        x=px_x(COL_PX[c][1] - 8), y=px_y(ROW_PX[0][0] + 2),
        xanchor="right", yanchor="top",
        orientation="h", bgcolor="rgba(255,255,255,0.85)",
        bordercolor="#d0d0d0", borderwidth=1,
        font=dict(family=FONT, size=18, color="black"),
        itemwidth=30, tracegroupgap=0, entrywidth=104,
    )

annotations = []
for c in range(3):
    annotations.append(dict(
        text=f"9 m/s \u2013 WT2: {CASES[c]}", xref="paper", yref="paper",
        x=px_x((COL_PX[c][0] + COL_PX[c][1]) / 2), y=1,
        xanchor="center", yanchor="top", showarrow=False,
        font=dict(family=FONT, size=23, color="black"),
    ))

fig.update_layout(
    width=W, height=H,
    margin=dict(l=0, r=0, t=0, b=0, autoexpand=False),
    paper_bgcolor="white", plot_bgcolor="white",
    font=dict(family=FONT, size=20, color="black"),
    shapes=shapes, annotations=annotations,
    **layout,
)

fig.write_html("out.html")
